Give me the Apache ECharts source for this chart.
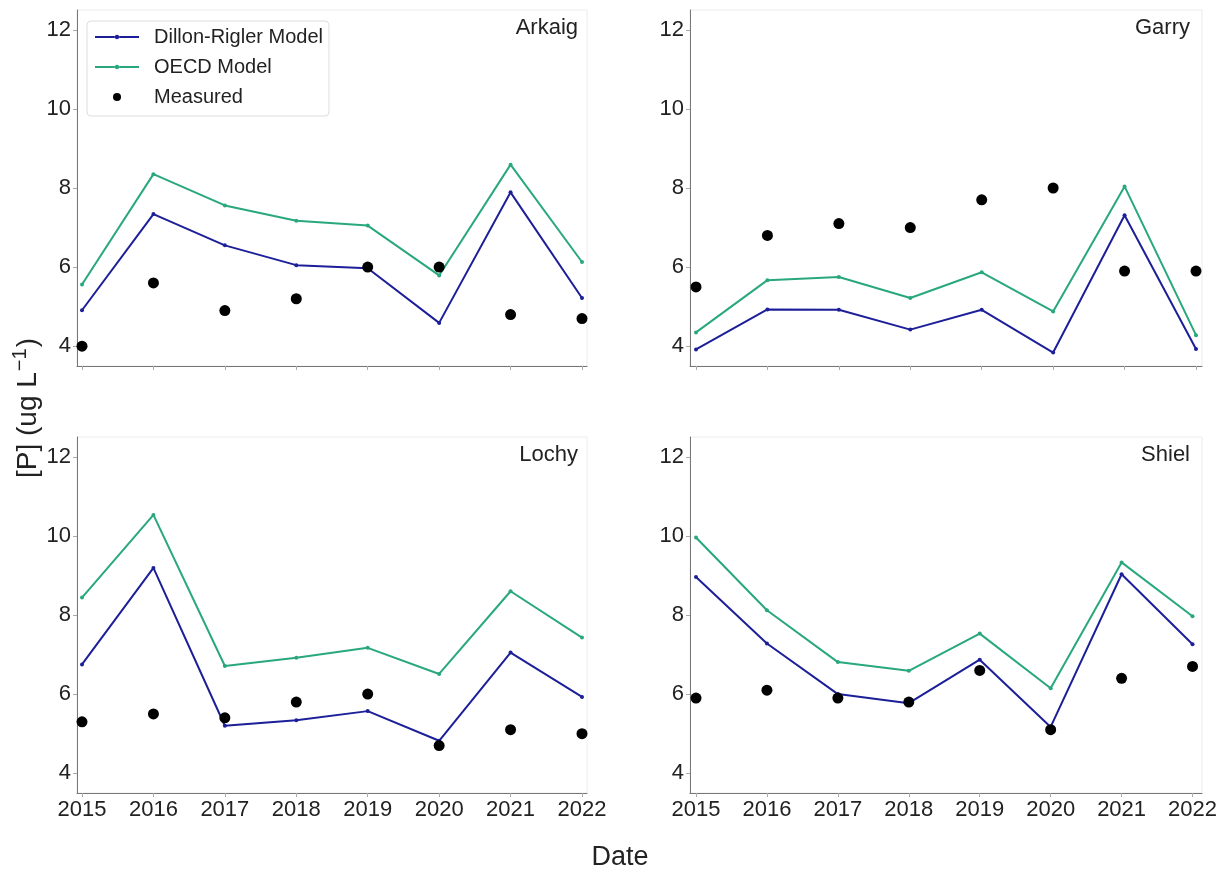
<!DOCTYPE html>
<html><head><meta charset="utf-8">
<script src="https://cdn.jsdelivr.net/npm/echarts@6/dist/echarts.min.js"></script>
<style>html,body{margin:0;padding:0;background:#fff}#c{width:1220px;height:873px}</style>
</head><body><div id="c"></div>
<script>
// ---- data ----
const years = ['2015','2016','2017','2018','2019','2020','2021','2022'];
const yTicks = [4, 6, 8, 10, 12];
const lakes = ['Arkaig', 'Garry', 'Lochy', 'Shiel'];
const seriesNames = ['Dillon-Rigler Model', 'OECD Model', 'Measured'];

const arkaigDR   = [4.91, 7.34, 6.55, 6.05, 5.97, 4.59, 7.89, 5.22];
const arkaigOECD = [5.56, 8.35, 7.56, 7.17, 7.05, 5.79, 8.59, 6.13];
const arkaigMeas = [4.0, 5.6, 4.9, 5.2, 6.0, 6.0, 4.8, 4.7];

const garryDR   = [3.92, 4.93, 4.92, 4.42, 4.92, 3.84, 7.31, 3.93];
const garryOECD = [4.35, 5.67, 5.75, 5.22, 5.87, 4.88, 8.04, 4.28];
const garryMeas = [5.5, 6.8, 7.1, 7.0, 7.7, 8.0, 5.9, 5.9];

const lochyDR   = [6.75, 9.19, 5.20, 5.34, 5.57, 4.82, 7.05, 5.93];
const lochyOECD = [8.44, 10.53, 6.71, 6.92, 7.17, 6.51, 8.60, 7.43];
const lochyMeas = [5.3, 5.5, 5.4, 5.8, 6.0, 4.7, 5.1, 5.0];

const shielDR   = [8.96, 7.28, 6.00, 5.77, 6.87, 5.17, 9.03, 7.26];
const shielOECD = [9.96, 8.12, 6.81, 6.59, 7.53, 6.15, 9.33, 7.97];
const shielMeas = [5.9, 6.1, 5.9, 5.8, 6.6, 5.1, 6.4, 6.7];

const panelData = [
  [arkaigDR, arkaigOECD, arkaigMeas],
  [garryDR, garryOECD, garryMeas],
  [lochyDR, lochyOECD, lochyMeas],
  [shielDR, shielOECD, shielMeas]
];

// ---- layout / style ----
const FONT = 'Liberation Sans, Arial, sans-serif';
const panels = [
  {axisX: 77,  dataL: 82,  dataR: 582,  right: 587,  top: 10,  h: 356, titleRight: 642, titleTop: 17, showX: false},
  {axisX: 690, dataL: 696, dataR: 1196, right: 1202, top: 10,  h: 356, titleRight: 30,  titleTop: 17, showX: false},
  {axisX: 77,  dataL: 82,  dataR: 582,  right: 587,  top: 437, h: 356, titleRight: 642, titleTop: 444, showX: true},
  {axisX: 690, dataL: 696, dataR: 1196, right: 1202, top: 437, h: 356, titleRight: 30,  titleTop: 444, showX: true}
];
const colors = ['#1c1f98', '#28a87b', '#000000'];
const YMIN = 3.5, YMAX = 12.5;
// legend icon for line series: thin line with small centre dot
const lineIcon = 'path://M0,4.1 L19.8,4.1 L19.8,5.9 L0,5.9 Z M24.2,4.1 L44,4.1 L44,5.9 L24.2,5.9 Z M24.2,5 A2.2,2.2 0 1,1 19.8,5 A2.2,2.2 0 1,1 24.2,5 Z';

const grid = [], xAxis = [], yAxis = [], series = [], title = [];
panels.forEach((p, k) => {
  grid.push({left: p.axisX, top: p.top, width: p.right - p.axisX, height: p.h,
    show: true, borderColor: '#ececec', borderWidth: 1, backgroundColor: 'transparent'});
  xAxis.push({type: 'value', gridIndex: k, min: 0, max: 1,
    axisLine: {show: true, onZero: false, lineStyle: {color: '#777', width: 1}},
    axisTick: {show: false}, axisLabel: {show: false}, splitLine: {show: false}});
  yAxis.push({type: 'value', gridIndex: k, min: YMIN, max: YMAX,
    axisLine: {show: true, onZero: false, lineStyle: {color: '#777', width: 1}},
    axisTick: {show: true, length: 4, customValues: yTicks, lineStyle: {color: '#aaa'}},
    axisLabel: {show: true, customValues: yTicks, fontSize: 22, color: '#222', fontFamily: FONT, margin: 6},
    splitLine: {show: false}});
  title.push({text: lakes[k], right: p.titleRight, top: p.titleTop, padding: 0,
    textStyle: {fontSize: 22, fontWeight: 'normal', color: '#222', fontFamily: FONT}});
});
panels.forEach((p, k) => {
  grid.push({left: p.dataL, top: p.top, width: p.dataR - p.dataL, height: p.h});
  xAxis.push({type: 'category', gridIndex: 4 + k, data: years, boundaryGap: false,
    axisLine: {show: false},
    axisTick: {show: true, length: 4, alignWithLabel: true, interval: 0, lineStyle: {color: '#aaa'}},
    axisLabel: {show: p.showX, interval: 0, fontSize: 22, color: '#222', fontFamily: FONT, margin: 6},
    splitLine: {show: false}});
  yAxis.push({type: 'value', gridIndex: 4 + k, min: YMIN, max: YMAX, show: false, splitLine: {show: false}});
  const d = panelData[k];
  for (let s = 0; s < 2; s++) {
    series.push({name: seriesNames[s], type: 'line', xAxisIndex: 4 + k, yAxisIndex: 4 + k, data: d[s],
      symbol: 'circle', symbolSize: 4, showSymbol: true, color: colors[s],
      lineStyle: {width: 2, color: colors[s]}, itemStyle: {color: colors[s]}, z: 3});
  }
  series.push({name: seriesNames[2], type: 'scatter', xAxisIndex: 4 + k, yAxisIndex: 4 + k, data: d[2],
    symbol: 'circle', symbolSize: 11, itemStyle: {color: colors[2], opacity: 1}, z: 4});
});

const option = {
  animation: false,
  backgroundColor: '#fff',
  textStyle: {fontFamily: FONT},
  title: title,
  legend: {
    data: [
      {name: seriesNames[0], icon: lineIcon},
      {name: seriesNames[1], icon: lineIcon},
      {name: seriesNames[2], icon: 'circle'}
    ],
    orient: 'vertical', left: 87, top: 21,
    itemWidth: 44, itemHeight: 8, itemGap: 10,
    padding: [6, 6, 9, 8],
    borderColor: '#dddddd', borderWidth: 1, borderRadius: 4, backgroundColor: '#fff',
    itemStyle: {opacity: 1},
    textStyle: {fontSize: 20, lineHeight: 20, color: '#222', fontFamily: FONT, padding: [0, 0, 0, 10]}
  },
  grid: grid, xAxis: xAxis, yAxis: yAxis, series: series,
  graphic: [
    {type: 'text', x: 620, y: 858, style: {text: 'Date', fontSize: 27, fill: '#222', fontFamily: FONT,
      align: 'center', verticalAlign: 'middle'}},
    {type: 'text', x: 28, y: 408, rotation: Math.PI / 2,
      style: {text: '{n|[P] (ug L}{s|−1}{n|)}', fill: '#222', fontFamily: FONT,
        align: 'center', verticalAlign: 'middle',
        rich: {n: {fontSize: 28, lineHeight: 36, fontFamily: FONT, fill: '#222'},
               s: {fontSize: 20, verticalAlign: 'top', lineHeight: 36, padding: [0, 1, 10, 1], fontFamily: FONT, fill: '#222'}}}}
  ]
};
const chart = echarts.init(document.getElementById('c'));
chart.setOption(option);
</script></body></html>
